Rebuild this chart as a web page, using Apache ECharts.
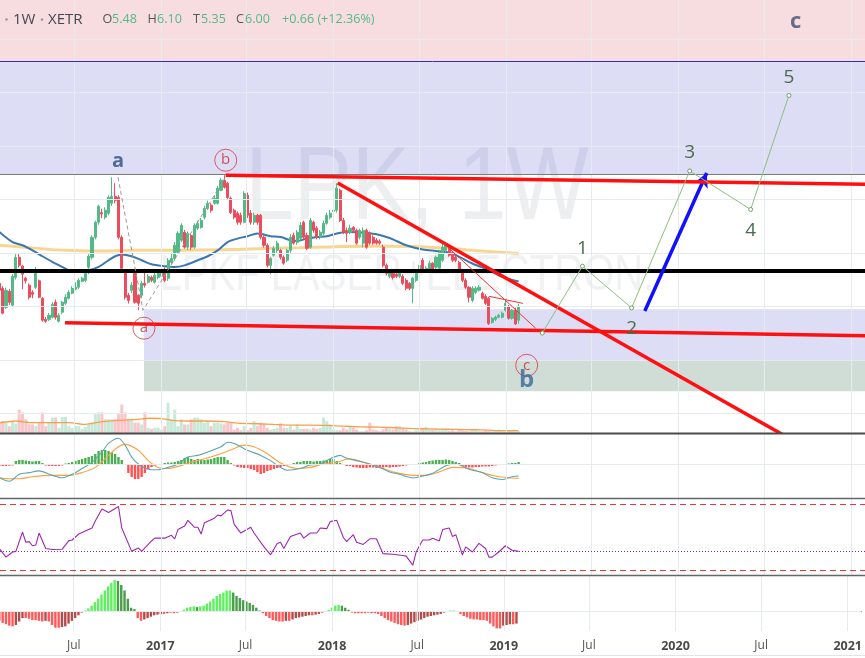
<!DOCTYPE html>
<html><head><meta charset="utf-8">
<script src="https://cdn.jsdelivr.net/npm/echarts@6/dist/echarts.min.js"></script>
<style>html,body{margin:0;padding:0;background:#fff}#c{width:865px;height:658px}</style>
</head><body><div id="c"></div>
<script>
// ---------------- DATA ----------------
const weekStart = '2016-01-25';           // first weekly candle
// [open, close, low, high]
const ohlc = [
[6.86,6.60,6.55,6.95],[6.67,5.74,5.70,6.75],[5.96,6.60,5.90,6.70],[6.56,6.15,6.05,6.65],[6.04,7.12,6.00,7.20],
[7.08,7.83,7.00,7.95],[7.83,7.53,7.45,7.95],[7.50,7.20,6.64,7.55],[7.05,6.95,6.85,7.10],[6.79,6.34,6.25,6.85],
[6.52,6.45,6.30,6.60],[6.71,7.23,6.65,7.47],[6.95,6.34,6.30,7.00],[6.30,5.48,5.42,6.35],[5.51,5.44,5.38,5.60],
[5.51,5.66,5.45,5.75],[5.59,6.07,5.55,6.15],[6.15,5.59,5.50,6.25],[5.44,5.66,5.40,5.75],[5.78,6.15,5.70,6.20],
[6.11,6.34,6.05,6.45],[6.30,6.52,6.25,6.60],[6.49,6.67,6.45,6.75],[6.64,6.71,6.60,6.90],[6.71,6.97,6.65,7.05],
[6.93,7.05,6.90,7.10],[6.97,7.23,6.90,7.30],[7.46,7.87,7.20,7.95],[7.83,8.58,7.75,8.65],[8.58,9.14,8.50,9.20],
[9.14,9.74,9.05,9.80],[9.50,9.45,9.30,9.65],[9.33,9.59,9.25,9.70],[9.48,10.07,9.40,10.15],[9.85,10.11,9.75,10.82],
[10.11,9.96,9.85,10.60],[10.07,8.58,8.50,10.15],[8.58,7.42,7.35,8.65],[7.23,6.34,6.25,7.30],[6.41,6.22,6.10,6.50],
[6.60,6.79,6.50,6.90],[7.23,6.15,6.10,7.30],[6.41,6.11,5.85,6.45],[6.41,6.86,6.30,6.95],[6.86,6.79,6.70,7.40],
[6.90,7.12,6.85,7.20],[7.08,6.97,6.90,7.15],[6.90,7.16,6.85,7.25],[7.08,7.23,7.00,7.35],[7.12,7.35,7.05,7.45],
[7.35,6.97,6.90,7.45],[7.05,7.72,6.95,7.80],[7.64,7.79,7.55,8.00],[7.79,8.28,7.70,8.40],[8.02,8.73,7.95,8.80],
[8.47,9.03,8.40,9.10],[8.77,8.21,8.15,8.85],[8.21,8.73,8.10,8.80],[8.65,8.21,8.10,8.70],[8.21,9.03,8.15,9.10],
[8.92,9.10,8.85,9.20],[8.95,9.21,8.90,9.30],[9.33,9.66,9.25,9.75],[9.66,9.85,9.60,9.95],[9.78,9.59,9.50,9.85],
[9.85,10.04,9.80,10.15],[9.85,10.41,9.80,10.50],[10.34,10.71,10.30,10.80],[10.71,10.45,10.40,10.90],[10.60,10.07,10.00,10.65],
[10.04,9.51,9.45,10.10],[9.59,9.33,9.25,9.65],[9.48,9.14,9.05,9.55],[9.40,9.14,9.05,9.50],[9.14,10.22,9.10,10.30],
[10.15,9.40,9.30,10.25],[9.48,9.14,9.05,9.60],[9.14,9.40,9.05,9.50],[9.40,9.14,9.05,9.45],[9.40,8.58,8.50,9.45],
[8.58,8.28,8.20,8.65],[8.28,7.53,7.45,8.35],[7.53,7.79,7.20,7.85],[7.91,8.17,7.85,8.25],[8.09,8.36,8.00,8.45],
[8.09,7.83,7.75,8.15],[7.83,7.61,7.55,7.90],[7.72,8.09,7.65,8.15],[8.09,8.58,8.00,8.70],[8.65,8.36,8.30,8.75],
[8.39,8.77,8.30,8.85],[8.54,9.03,8.45,9.15],[9.14,8.58,8.50,9.20],[8.65,8.17,8.10,8.75],[8.21,9.21,8.15,9.30],
[9.14,8.84,8.75,9.20],[8.92,8.58,8.50,9.00],[8.58,8.77,8.50,8.85],[8.73,9.10,8.65,9.20],[9.10,9.40,9.05,9.50],
[9.33,9.48,9.25,9.60],[9.55,9.59,9.45,9.70],[9.59,10.41,9.50,10.60],[10.34,9.21,9.15,10.40],[9.21,8.77,8.70,9.30],
[8.84,8.73,8.40,8.95],[8.77,8.92,8.70,9.05],[8.95,8.84,8.75,9.00],[8.84,8.36,8.30,8.90],[8.58,8.84,8.50,8.90],
[8.36,8.84,8.20,8.95],[8.84,8.21,8.15,8.90],[8.73,8.36,8.30,8.80],[8.58,8.36,8.30,8.65],[8.47,8.36,8.30,8.55],
[8.43,8.36,8.30,8.50],[8.21,7.53,7.45,8.30],[7.53,7.23,7.15,7.60],[7.12,7.27,7.05,7.35],[7.23,7.08,7.00,7.30],
[7.20,7.12,7.05,7.25],[7.12,7.30,7.05,7.35],[7.12,6.86,6.80,7.20],[6.97,6.67,6.60,7.05],[6.86,6.67,6.60,6.90],
[6.67,7.05,6.11,7.10],[6.97,7.23,6.90,7.30],[7.27,7.53,7.20,7.60],[7.72,7.35,7.30,7.80],[7.35,7.42,7.30,7.50],
[7.35,7.61,7.30,7.70],[7.61,7.35,7.30,7.65],[7.46,7.83,7.40,7.90],[7.42,8.02,7.35,8.10],[7.72,8.21,7.65,8.39],
[8.09,8.28,8.00,8.35],[8.17,7.91,7.85,8.25],[7.98,7.72,7.65,8.05],[7.83,7.72,7.65,7.90],[7.64,7.35,7.30,7.70],
[7.35,6.97,6.90,7.40],[6.97,6.71,6.65,7.05],[6.71,6.34,6.15,6.75],[6.22,6.67,6.15,6.75],[6.52,6.67,6.45,6.75],
[6.60,6.71,6.55,6.80],[6.49,6.30,6.25,6.55],[6.37,6.11,6.05,6.45],[6.30,5.36,5.30,6.35],[5.40,5.55,5.35,5.60],
[5.51,5.59,5.45,5.65],[5.59,5.66,5.55,5.72],[5.59,5.74,5.55,5.80],[5.85,6.11,5.80,6.20],[6.00,5.55,5.50,6.05],
[5.55,5.85,5.50,5.90],[5.85,5.34,5.30,5.95],[5.48,6.00,5.35,6.10]
];
const volume = [
600,700,600,400,700,560,1360,1200,800,500,500,400,600,1200,400,600,900,900,300,940,
940,400,300,400,400,240,360,500,600,1100,1200,1200,800,800,800,800,1100,1660,1200,800,
800,600,600,500,1200,300,240,300,300,200,400,1760,800,1360,400,800,500,500,800,900,
900,800,600,700,400,600,600,560,500,600,600,200,300,160,400,160,300,700,400,600,
560,300,200,240,300,560,300,300,400,200,500,240,240,240,200,300,240,300,900,700,
500,200,160,160,300,200,400,300,200,100,100,160,600,200,160,100,200,300,240,200,
400,400,300,200,100,100,160,200,240,360,200,200,300,160,160,200,120,160,100,200,
160,120,100,160,200,120,100,160,120,100,160,200,120,100,160,120,100,100
];
// [week index, value]
const volumeMA = [[0,600],[5,700],[10,600],[16,600],[21,600],[26,500],[28,560],[31,660],[36,740],[42,800],[45,860],[49,840],[52,740],[57,700],[62,700],[68,660],[73,560],[78,540],[83,500],[88,460],[94,460],[99,440],[104,400],[109,360],[115,340],[120,300],[125,260],[130,240],[135,220],[141,200],[146,180],[151,140],[157,140]];
const maBlue = [[0,8.78],[4,8.40],[7,8.28],[10,8.09],[13,7.87],[16,7.66],[19,7.47],[21,7.35],[23,7.32],[27,7.35],[30,7.47],[33,7.72],[35,7.87],[37,7.94],[40,7.87],[43,7.72],[46,7.57],[50,7.50],[53,7.47],[56,7.53],[60,7.72],[63,7.87],[66,8.09],[69,8.40],[72,8.53],[75,8.62],[78,8.72],[82,8.62],[85,8.59],[88,8.47],[90,8.44],[93,8.53],[96,8.59],[99,8.62],[102,8.72],[105,8.78],[108,8.77],[111,8.74],[114,8.69],[117,8.59],[119,8.50],[123,8.28],[128,8.12],[132,8.07],[135,8.03],[138,7.91],[143,7.60],[148,7.35],[152,7.10],[157,6.93]];
const maOrange = [[0,8.28],[10,8.18],[20,8.09],[30,8.07],[41,8.09],[50,8.09],[70,8.12],[80,8.16],[91,8.19],[100,8.22],[111,8.24],[118,8.24],[133,8.19],[143,8.09],[157,7.97]];
const macdHist = [
-0.017,-0.02,-0.02,-0.017,-0.015,0.03,0.04,0.04,0.035,0.03,0.025,0.03,0.03,0.01,-0.015,-0.02,-0.02,-0.02,-0.02,-0.015,
0.005,0.01,0.02,0.03,0.04,0.05,0.06,0.07,0.08,0.10,0.13,0.14,0.14,0.13,0.12,0.10,0.07,0.04,-0.01,-0.09,
-0.13,-0.15,-0.15,-0.13,-0.09,-0.05,-0.03,-0.02,-0.01,-0.005,0.01,0.015,0.015,0.02,0.03,0.04,0.06,0.07,0.05,0.04,
0.05,0.04,0.04,0.045,0.05,0.06,0.07,0.07,0.07,0.04,0.01,-0.015,-0.03,-0.035,-0.04,-0.04,-0.05,-0.06,-0.08,-0.10,
-0.09,-0.07,-0.06,-0.05,-0.04,-0.03,-0.02,-0.015,-0.005,0.01,0.02,0.02,0.03,0.03,0.03,0.025,0.03,0.03,0.035,0.04,
0.05,0.05,0.03,0.01,-0.01,-0.02,-0.02,-0.03,-0.035,-0.04,-0.04,-0.04,-0.035,-0.035,-0.04,-0.04,-0.035,-0.03,-0.035,-0.03,
-0.03,-0.025,-0.02,-0.015,-0.01,-0.005,-0.002,0.01,0.015,0.02,0.03,0.035,0.04,0.04,0.04,0.045,0.04,0.03,0.02,0.01,
-0.02,-0.03,-0.035,-0.035,-0.03,-0.03,-0.025,-0.025,-0.025,-0.02,-0.015,-0.01,-0.005,-0.002,0.005,0.01,0.01,0.02
];
const macdLine = [[0,-0.138],[3,-0.172],[6,-0.103],[9,-0.086],[12,-0.069],[16,-0.114],[19,-0.138],[22,-0.103],[25,-0.045],[28,0.017],[31,0.120],[33,0.206],[36,0.258],[38,0.189],[40,0.069],[42,0],[45,-0.052],[48,-0.058],[51,-0.034],[54,0],[57,0.069],[60,0.086],[63,0.120],[67,0.172],[69,0.217],[71,0.206],[73,0.172],[75,0.138],[79,0.086],[82,0.034],[85,-0.034],[87,-0.062],[91,-0.045],[94,-0.010],[97,0],[100,0.052],[103,0.086],[105,0.058],[108,0.034],[111,0.010],[115,-0.034],[118,-0.079],[121,-0.103],[125,-0.138],[128,-0.120],[131,-0.093],[135,-0.017],[138,0],[142,-0.052],[146,-0.086],[149,-0.138],[152,-0.155],[155,-0.127],[157,-0.120]];
const macdSignal = [[0,-0.138],[3,-0.148],[6,-0.148],[10,-0.127],[16,-0.114],[21,-0.114],[25,-0.086],[29,-0.034],[33,0.086],[36,0.172],[38,0.196],[42,0.138],[45,0.034],[48,-0.034],[51,-0.045],[54,-0.024],[58,0.017],[62,0.052],[67,0.103],[71,0.155],[74,0.189],[77,0.172],[81,0.103],[85,0.010],[90,-0.045],[94,-0.034],[98,0],[102,0.017],[106,0.052],[110,0.017],[115,-0.034],[120,-0.086],[125,-0.114],[129,-0.114],[133,-0.079],[137,-0.034],[142,-0.045],[146,-0.086],[150,-0.120],[154,-0.138],[157,-0.144]];
const rsi = [[0,43.0],[2,37.8],[4,40.9],[5,41.3],[7,53.0],[8,46.8],[9,47.2],[10,44.7],[11,45.1],[12,52.4],[14,43.0],[16,42.4],[19,42.6],[21,47.8],[22,48.2],[24,51.8],[28,55.5],[29,59.7],[31,67.0],[33,64.9],[36,68.5],[37,55.5],[40,41.3],[42,43.4],[43,41.3],[46,47.6],[47,49.3],[50,49.3],[52,51.0],[53,48.9],[54,54.5],[56,56.6],[57,60.1],[59,55.9],[60,55.9],[61,51.8],[62,58.7],[65,61.4],[66,63.3],[67,62.8],[69,66.4],[70,66.0],[71,57.6],[73,52.4],[76,55.9],[77,52.4],[80,44.0],[82,39.2],[84,46.1],[85,46.8],[86,43.0],[88,50.3],[91,52.4],[92,49.3],[94,52.4],[96,52.4],[97,55.5],[99,55.1],[100,59.3],[102,60.1],[104,49.7],[105,47.2],[107,51.4],[108,46.8],[110,45.5],[112,48.9],[114,48.9],[116,39.9],[119,39.5],[122,38.8],[123,38.4],[124,35.7],[125,33.0],[126,40.9],[128,48.2],[130,48.2],[131,49.3],[133,47.6],[134,54.5],[136,55.5],[137,50.3],[138,51.4],[140,39.2],[141,44.0],[143,40.9],[145,46.1],[147,43.0],[148,37.8],[149,37.8],[151,40.9],[153,44.7],[155,42.0],[157,41.3]];
const rsiLevels = [70, 30];
const rsiMid = 41.3;
const momentum = [
-0.14,-0.17,-0.19,-0.21,-0.22,-0.2,-0.15,-0.1,-0.1,-0.11,-0.13,-0.13,-0.14,-0.15,-0.14,-0.15,-0.2,-0.24,-0.24,-0.23,
-0.22,-0.18,-0.14,-0.1,-0.06,-0.02,0.01,0.04,0.08,0.13,0.18,0.24,0.3,0.36,0.41,0.45,0.44,0.38,0.3,0.18,
0.05,0.03,-0.1,-0.14,-0.12,-0.1,-0.08,-0.06,-0.05,-0.04,-0.04,-0.03,-0.02,-0.03,-0.02,-0.01,0.02,0.05,0.06,0.07,
0.06,0.07,0.08,0.11,0.14,0.18,0.22,0.25,0.27,0.3,0.3,0.27,0.22,0.19,0.16,0.14,0.12,0.09,0.05,0.01,
-0.03,-0.07,-0.1,-0.13,-0.14,-0.15,-0.15,-0.14,-0.14,-0.12,-0.1,-0.09,-0.08,-0.07,-0.06,-0.06,-0.05,-0.04,-0.02,-0.01,
0.02,0.05,0.08,0.09,0.08,0.05,0.02,-0.02,-0.03,-0.03,-0.03,-0.03,-0.02,-0.03,-0.03,-0.04,-0.07,-0.1,-0.13,-0.15,
-0.17,-0.19,-0.2,-0.21,-0.2,-0.18,-0.16,-0.14,-0.12,-0.1,-0.08,-0.07,-0.06,-0.05,-0.04,-0.02,-0.01,0.01,0.01,-0.01,
-0.04,-0.07,-0.09,-0.11,-0.12,-0.12,-0.13,-0.13,-0.14,-0.18,-0.22,-0.25,-0.25,-0.21,-0.2,-0.19,-0.19,-0.18
];
// Drawings (date, price)
const thickRedLines = [['2017-05-18',10.897,'2021-03-01',10.55],['2016-06-12',5.383,'2021-03-01',4.888],['2018-01-10',10.61,'2020-08-30',0.99]];
const thinRedLines = [['2018-08-20',8.39,'2019-03-05',5.18],['2018-11-26',6.374,'2019-02-06',6.11]];
const dashedPath = [['2016-10-02',10.82],['2016-11-24',5.85],['2017-05-20',10.897]];
const levelThickBlack = 7.308;
const levelThinBlack = ['2019-01-03',6.224];
const levelTopBlue = 15.159, levelTopGray = 10.916;
const boxStart = '2016-11-26';
const boxLevels = [5.888, 3.981, 2.822];  // gray, green, navy borders
const waveDates = ['2019-03-19','2019-06-12','2019-09-24','2020-01-25','2020-06-02','2020-08-22'];
const wavePrices = [5.00,7.50,5.94,11.06,9.62,13.88];
const waveNames = ['','1','2','3','4','5'];
const arrow = [['2019-10-22',5.824],['2020-03-01',10.983]];
const circleLabels = [['b','2017-05-18',11.46],['a','2016-11-26',5.18],['c','2019-02-14',3.794]];
const letterLabels = [['a','2016-10-02',11.42],['b','2019-02-14',3.234],['c','2020-09-05',16.654]];
const axisDates = ['2016-07-01','2017-01-01','2017-07-01','2018-01-01','2018-07-01','2019-01-01','2019-07-01','2020-01-01','2020-07-01','2021-01-01'];
const priceTicks = [2,4,6,8,10,12,14,16];
const header = {tf:'1W', exch:'XETR', prevClose:5.34};

// ---------------- BUILD ----------------
const DAY = 864e5;
const T = s => Date.parse(s);
const t0 = T(weekStart);
const wk = k => t0 + k * 7 * DAY;
const X_MIN = Date.UTC(2017,0,1) - 340.7 * DAY, X_MAX = X_MIN + 1830.7 * DAY;
const GREEN = '#53b987', RED = '#eb4d5c', GRIDC = '#e6ebf0';
const gridDefs = [
  {top:0,height:432},{top:373,height:60},{top:434,height:64},{top:499,height:76},{top:576,height:55}
];
const yRanges = [[1.3,17.45],[0,3500],[-0.34,0.30],[26.97,73.03],[-0.2875,0.51]];
const axisVals = axisDates.map(T);
const font = '"Open Sans","DejaVu Sans",sans-serif';

const xAxis = gridDefs.map((g,i)=>({
  type:'value', gridIndex:i, min:X_MIN, max:X_MAX, show: i===4,
  axisLine:{show:true, lineStyle:{color:'#555', width:1}},
  axisTick:{show:true, customValues:axisVals, length:4, lineStyle:{color:'#555'}},
  axisLabel:{show:true, customValues:axisVals, margin:9, fontFamily:font,
    formatter:v=>{const d=new Date(v);return d.getUTCMonth()===0?'{y|'+d.getUTCFullYear()+'}':'{m|Jul}';},
    rich:{y:{fontWeight:'bold',fontSize:12.5,color:'#4a4a4a',fontFamily:font},m:{fontSize:12,color:'#555',fontFamily:font}}},
  splitLine:{show:false}
}));
const yAxis = gridDefs.map((g,i)=>({type:'value',gridIndex:i,min:yRanges[i][0],max:yRanges[i][1],show:false,splitLine:{show:false}}));

const series = [];
const vLines = axisVals.map(v=>({xAxis:v}));
gridDefs.forEach((g,i)=>{
  let data = vLines.slice();
  if(i===0) data = data.concat(priceTicks.map(p=>({yAxis:p})));
  if(i===2 || i===4) data.push({yAxis:0});
  series.push({type:'line',xAxisIndex:i,yAxisIndex:i,data:[],z:0,silent:true,
    markLine:{silent:true,symbol:['none','none'],label:{show:false},lineStyle:{color:GRIDC,width:1,type:'solid'},data}});
});
const zoneStyles = ['rgba(214,84,100,0.2)','rgba(85,85,210,0.2)','rgba(85,85,210,0.2)','rgba(20,80,50,0.2)'];
series.push({type:'line',xAxisIndex:0,yAxisIndex:0,data:[],z:1,silent:true,
  markArea:{silent:true,data:[
    [{yAxis:levelTopBlue,itemStyle:{color:zoneStyles[0]}},{yAxis:30}],
    [{yAxis:levelTopGray,itemStyle:{color:zoneStyles[1]}},{yAxis:levelTopBlue}],
    [{xAxis:T(boxStart),yAxis:boxLevels[1],itemStyle:{color:zoneStyles[2]}},{xAxis:X_MAX+30*DAY,yAxis:boxLevels[0]}],
    [{xAxis:T(boxStart),yAxis:boxLevels[2],itemStyle:{color:zoneStyles[3]}},{xAxis:X_MAX+30*DAY,yAxis:boxLevels[1]}]
  ]},
  markLine:{silent:true,symbol:['none','none'],label:{show:false},data:[
    {yAxis:levelTopBlue,lineStyle:{color:'#3030c0',width:1,type:'solid'}},
    {yAxis:levelTopGray,lineStyle:{color:'#7a7a7a',width:1,type:'solid'}},
    [{coord:[T(boxStart),boxLevels[0]],lineStyle:{color:'#7a7a7a',width:1,type:'solid'}},{coord:[X_MAX+30*DAY,boxLevels[0]]}],
    [{coord:[T(boxStart),boxLevels[1]],lineStyle:{color:'#9acd32',width:1.3,type:'solid'}},{coord:[X_MAX+30*DAY,boxLevels[1]]}],
    [{coord:[T(boxStart),boxLevels[2]],lineStyle:{color:'#23238a',width:1,type:'solid'}},{coord:[X_MAX+30*DAY,boxLevels[2]]}]
  ]}
});
series.push({type:'bar',xAxisIndex:1,yAxisIndex:1,barWidth:3,z:2,silent:true,
  data:volume.map((v,k)=>({value:[wk(k),v],itemStyle:{color: ohlc[k][1]>=ohlc[k][0] ? 'rgba(83,185,135,0.32)' : 'rgba(235,77,92,0.32)'}}))});
series.push({type:'line',xAxisIndex:1,yAxisIndex:1,z:3,symbol:'none',silent:true,smooth:0.2,
  lineStyle:{color:'#f7a04a',width:1.3},data:volumeMA.map(p=>[wk(p[0]),p[1]])});
series.push({type:'line',xAxisIndex:0,yAxisIndex:0,z:3,symbol:'none',silent:true,smooth:0.3,
  lineStyle:{color:'rgba(245,200,110,0.75)',width:3},data:maOrange.map(p=>[wk(p[0]),p[1]])});
series.push({type:'line',xAxisIndex:0,yAxisIndex:0,z:3,symbol:'none',silent:true,smooth:0.3,
  lineStyle:{color:'#3b77b0',width:2},data:maBlue.map(p=>[wk(p[0]),p[1]])});
series.push({type:'candlestick',xAxisIndex:0,yAxisIndex:0,z:4,barWidth:2.6,silent:true,
  encode:{x:0,y:[1,2,3,4]},
  itemStyle:{color:GREEN,color0:RED,borderColor:GREEN,borderColor0:RED,borderWidth:1},
  data:ohlc.map((r,k)=>[wk(k),r[0],r[1],r[2],r[3]])});
series.push({type:'line',xAxisIndex:0,yAxisIndex:0,data:[],z:5,silent:true,
  markLine:{silent:true,symbol:['none','none'],label:{show:false},data:[
    {yAxis:levelThickBlack,lineStyle:{color:'#000',width:4,type:'solid'}},
    [{coord:[T(levelThinBlack[0]),levelThinBlack[1]],lineStyle:{color:'#111',width:2,type:'solid'}},{coord:[X_MAX+30*DAY,levelThinBlack[1]]}]
  ]}});
series.push({type:'line',xAxisIndex:0,yAxisIndex:0,z:5,symbol:'none',silent:true,
  lineStyle:{color:'#9a9a9a',width:1,type:[4,3]},data:dashedPath.map(p=>[T(p[0]),p[1]])});
thickRedLines.forEach(l=>series.push({type:'line',xAxisIndex:0,yAxisIndex:0,z:6,symbol:'none',silent:true,
  lineStyle:{color:'#ff1010',width:3.5},data:[[T(l[0]),l[1]],[T(l[2]),l[3]]]}));
thinRedLines.forEach(l=>series.push({type:'line',xAxisIndex:0,yAxisIndex:0,z:6,symbol:'none',silent:true,
  lineStyle:{color:'#f03030',width:1},data:[[T(l[0]),l[1]],[T(l[2]),l[3]]]}));
series.push({type:'line',xAxisIndex:0,yAxisIndex:0,z:7,silent:true,symbol:'circle',symbolSize:4,
  itemStyle:{color:'#fff',borderColor:'#6fa35f',borderWidth:1},
  lineStyle:{color:'#8cbf7c',width:1},
  data:waveDates.map((d,i)=>({value:[T(d),wavePrices[i]],label:{show:waveNames[i]!=='',formatter:waveNames[i],
    position: i%2===1?'top':'bottom', distance: i%2===1?6:9, color:'#4b6b4b', fontSize:19, fontFamily:font}}))});
series.push({type:'line',xAxisIndex:0,yAxisIndex:0,data:[],z:8,silent:true,
  markLine:{silent:true,symbol:['none','arrow'],symbolSize:[11,14],label:{show:false},
    lineStyle:{color:'#1010ff',width:3.5,type:'solid'},
    data:[[{coord:[T(arrow[0][0]),arrow[0][1]]},{coord:[T(arrow[1][0]),arrow[1][1]]}]]}});
series.push({type:'scatter',xAxisIndex:0,yAxisIndex:0,z:9,silent:true,symbol:'circle',symbolSize:22,
  itemStyle:{color:'rgba(255,255,255,0)',borderColor:'#d83a3a',borderWidth:1},
  label:{show:true,position:'inside',formatter:p=>p.data.name,color:'#c63030',fontSize:15,fontFamily:font},
  data:circleLabels.map(c=>({name:c[0],value:[T(c[1]),c[2]]}))});
const letterSize=[20,24,22], letterColor=['#2a4d80','#3a6898','#3e5172'];
series.push({type:'scatter',xAxisIndex:0,yAxisIndex:0,z:9,silent:true,symbolSize:1,itemStyle:{color:'rgba(0,0,0,0)'},
  data:letterLabels.map((c,i)=>({name:c[0],value:[T(c[1]),c[2]],label:{show:true,position:'inside',formatter:c[0],
    fontSize:letterSize[i],fontWeight:'bold',color:letterColor[i],fontFamily:font}}))});
series.push({type:'bar',xAxisIndex:2,yAxisIndex:2,barWidth:2.4,z:2,silent:true,
  data:macdHist.map((v,k)=>({value:[wk(k),v],itemStyle:{color:v>=0?'#4caf50':'#ff5252'}}))});
series.push({type:'line',xAxisIndex:2,yAxisIndex:2,z:3,symbol:'none',silent:true,smooth:0.3,
  lineStyle:{color:'#ffa040',width:1.1},data:macdSignal.map(p=>[wk(p[0]),p[1]])});
series.push({type:'line',xAxisIndex:2,yAxisIndex:2,z:4,symbol:'none',silent:true,smooth:0.3,
  lineStyle:{color:'#5aa6b0',width:1.1},data:macdLine.map(p=>[wk(p[0]),p[1]])});
series.push({type:'line',xAxisIndex:3,yAxisIndex:3,z:3,symbol:'none',silent:true,
  lineStyle:{color:'#9c27b0',width:1.1},data:rsi.map(p=>[wk(p[0]),p[1]]),
  markLine:{silent:true,symbol:['none','none'],label:{show:false},data:[
    {yAxis:rsiLevels[0],lineStyle:{color:'#e53935',width:1,type:[6,4]}},
    {yAxis:rsiLevels[1],lineStyle:{color:'#e53935',width:1,type:[6,4]}},
    {yAxis:rsiMid,lineStyle:{color:'#8e24aa',width:1,type:[1,2]}}]}});
series.push({type:'bar',xAxisIndex:4,yAxisIndex:4,barWidth:2.4,z:2,silent:true,
  data:momentum.map((v,k)=>{const pv=k>0?momentum[k-1]:v;let c;
    if(v>=0) c = v>=pv ? '#5ef05e' : '#4a9e4a'; else c = v<=pv ? '#ff5a5a' : '#b44c4c';
    return {value:[wk(k),v],itemStyle:{color:c}};})});

const last = ohlc[ohlc.length-1];
const chg = last[1]-header.prevClose;
const hf = '12.6px '+font, tf = '15px '+font;
const hx = [[13,header.tf,'#434651',tf],[48,header.exch,'#434651',tf],[102.5,'O','#555',hf],[112,last[0].toFixed(2),GREEN,hf],
  [147.5,'H','#555',hf],[157,last[3].toFixed(2),GREEN,hf],[193,'T','#555',hf],[201,last[2].toFixed(2),GREEN,hf],
  [236,'C','#555',hf],[245,last[1].toFixed(2),GREEN,hf],[282,'+'+chg.toFixed(2)+' (+'+(chg/header.prevClose*100).toFixed(2)+'%)',GREEN,hf]];
const graphic = [
  {type:'text',x:417,y:191,scaleX:0.845,z:1,silent:true,style:{text:'LPK, 1W',font:'103px "Liberation Sans"',fill:'rgba(110,115,130,0.12)',align:'center',verticalAlign:'middle'}},
  {type:'text',x:407,y:276,scaleX:0.8,z:1,silent:true,style:{text:'LPKF LASER+ELECTRON.',font:'50px "Liberation Sans"',fill:'rgba(110,115,130,0.10)',align:'center',verticalAlign:'middle'}},
  {type:'circle',shape:{cx:6.5,cy:19.5,r:1.3},style:{fill:'#9598a1'},z:50},
  {type:'circle',shape:{cx:42,cy:19.5,r:1.3},style:{fill:'#9598a1'},z:50},
  {type:'line',shape:{x1:0,y1:433.5,x2:865,y2:433.5},style:{stroke:'#4a4a4a',lineWidth:2},z:50},
  {type:'line',shape:{x1:0,y1:498.5,x2:865,y2:498.5},style:{stroke:'#666',lineWidth:1.5},z:50},
  {type:'line',shape:{x1:0,y1:575.5,x2:865,y2:575.5},style:{stroke:'#666',lineWidth:1.5},z:50},
  {type:'line',shape:{x1:0,y1:655.5,x2:865,y2:655.5},style:{stroke:'#e0e3eb',lineWidth:1},z:50}
].concat(hx.map(h=>({type:'text',x:h[0],y:19.5,z:50,silent:true,style:{text:h[1],font:h[3],fill:h[2],verticalAlign:'middle'}})));

const chart = echarts.init(document.getElementById('c'));
chart.setOption({
  animation:false, backgroundColor:'#fff',
  grid:gridDefs.map(g=>({left:0,right:0,top:g.top,height:g.height})),
  xAxis, yAxis, series, graphic
});
</script></body></html>
